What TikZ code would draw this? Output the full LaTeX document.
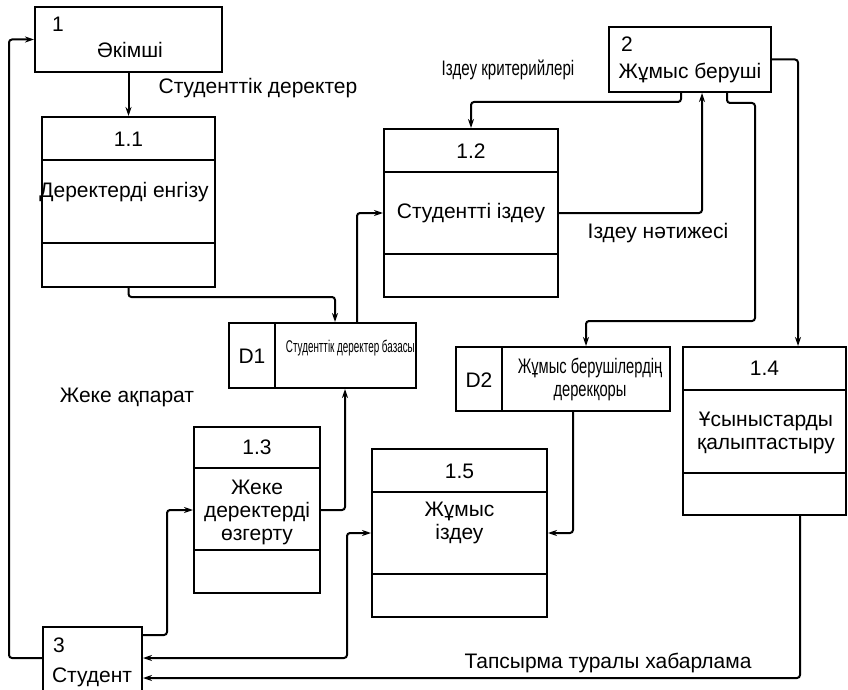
\documentclass[tikz,border=0pt]{standalone}
\usepackage{fontspec}
\setmainfont{Liberation Sans}
\usetikzlibrary{arrows.meta}
\tikzset{
  box/.style={draw, line width=2pt, inner sep=0pt, rectangle},
  flow/.style={line width=2pt, rounded corners=3pt, -{Stealth[length=9pt,width=6pt]}},
  flowboth/.style={line width=2pt, rounded corners=3pt, {Stealth[length=9pt,width=6pt]}-{Stealth[length=9pt,width=6pt]}},
  txt/.style={inner sep=0pt, font=\fontsize{21}{23}\selectfont},
  lbl/.style={inner sep=0pt, font=\fontsize{21}{23}\selectfont, align=center},
  divider/.style={line width=2pt}
}
\newcommand{\narrowtext}[2]{\scalebox{#1}[1]{#2}}
\begin{document}
\begin{tikzpicture}[x=1pt,y=-1pt]
\fill[white] (0,0) rectangle (848,690);
\useasboundingbox (0,0) rectangle (848,690);

% external entities
\node[box, minimum width=187pt, minimum height=65pt] (a1) at (128.5,39.5) {};
\node[txt, anchor=west] (a1n) at (52,24) {1};
\node[txt] (a1t) at (130,50) {Әкімші};

\node[box, minimum width=162pt, minimum height=65pt] (e2) at (690,59.5) {};
\node[txt, anchor=west] (e2n) at (621,44) {2};
\node[txt] (e2t) at (690,73) {Жұмыс беруші};

\node[box, minimum width=99pt, minimum height=72pt] (s3) at (92.5,663) {};
\node[txt, anchor=west] (s3n) at (53,645) {3};
\node[txt] (s3t) at (92,677) {Студент};

% processes
\node[box, minimum width=173pt, minimum height=170pt] (p11) at (128.5,202) {};
\draw[divider] (p11.north west |- 0,160) -- (p11.north east |- 0,160);
\draw[divider] (p11.north west |- 0,243) -- (p11.north east |- 0,243);
\node[txt] (p11n) at (128.5,139) {1.1};
\node[txt] (p11t) at (124,192) {Деректерді енгізу};

\node[box, minimum width=174pt, minimum height=168pt] (p12) at (471,213) {};
\draw[divider] (p12.north west |- 0,172) -- (p12.north east |- 0,172);
\draw[divider] (p12.north west |- 0,254) -- (p12.north east |- 0,254);
\node[txt] (p12n) at (471,151) {1.2};
\node[txt] (p12t) at (471,213) {Студентті іздеу};

\node[box, minimum width=126pt, minimum height=166pt] (p13) at (257,510) {};
\draw[divider] (p13.north west |- 0,468) -- (p13.north east |- 0,468);
\draw[divider] (p13.north west |- 0,550) -- (p13.north east |- 0,550);
\node[txt] (p13n) at (257,447) {1.3};
\node[lbl] (p13t) at (257,512) {Жеке\\деректерді\\өзгерту};

\node[box, minimum width=163pt, minimum height=168pt] (p14) at (764.5,431) {};
\draw[divider] (p14.north west |- 0,390) -- (p14.north east |- 0,390);
\draw[divider] (p14.north west |- 0,473) -- (p14.north east |- 0,473);
\node[txt] (p14n) at (764.5,368) {1.4};
\node[lbl] (p14t) at (766,433) {Ұсыныстарды\\қалыптастыру};

\node[box, minimum width=175pt, minimum height=168pt] (p15) at (459.5,533) {};
\draw[divider] (p15.north west |- 0,492) -- (p15.north east |- 0,492);
\draw[divider] (p15.north west |- 0,574) -- (p15.north east |- 0,574);
\node[txt] (p15n) at (459.5,471) {1.5};
\node[lbl] (p15t) at (459.5,523) {Жұмыс\\іздеу};

% data stores
\node[box, minimum width=187pt, minimum height=65pt] (d1) at (322.5,355.5) {};
\draw[divider] (275,323) -- (275,388);
\node[txt] (d1n) at (252,356) {D1};
\node[inner sep=0pt, anchor=east, font=\fontsize{17}{20}\selectfont] (d1t) at (415,348) {\narrowtext{0.58}{Студенттік деректер базасы}};

\node[box, minimum width=214pt, minimum height=64pt] (d2) at (563,379) {};
\draw[divider] (502,347) -- (502,411);
\node[txt] (d2n) at (479,380) {D2};
\node[inner sep=0pt, font=\fontsize{21}{23}\selectfont, align=center] (d2t) at (590,379) {\narrowtext{0.7}{Жұмыс берушілердің}\\\narrowtext{0.7}{дерекқоры}};

% data flows
\draw[flow] (a1.south) -- (p11.north);
\draw[flow] (p11.south) -- (128.5,297) -| (d1.north -| 335,0);
\draw[flow] (d1.north -| 357,0) |- (p12.west);
\draw[flow] (e2.south -| 681,0) -- (681,102) -| (p12.north);
\draw[flow] (p12.east) -| (e2.south -| 702,0);
\draw[flow] (e2.south -| 727,0) -- (727,103) -- (755,103) -- (755,321) -| (d2.north -| 586,0);
\draw[flow] (e2.east) -| (p14.north -| 798,0);
\draw[flow] (d2.south -| 573,0) |- (p15.east);
\draw[flow] (p13.east) -| (d1.south -| 345,0);
\draw[flow] (s3.east |- 0,635) -- (167,635) |- (p13.west);
\draw[flowboth] (s3.east |- 0,658) -| (347,533) -- (p15.west);
\draw[flow] (p14.south -| 800,0) |- (s3.east |- 0,678);
\draw[flow] (s3.west |- 0,658) -| (9,39.5) -- (a1.west);

% flow labels
\node[txt] (l1) at (258,88) {Студенттік деректер};
\node[inner sep=0pt, font=\fontsize{21}{23}\selectfont] (l2) at (508,70) {\narrowtext{0.72}{Іздеу критерийлері}};
\node[txt] (l3) at (658,233) {Іздеу нәтижесі};
\node[txt] (l4) at (127,397) {Жеке ақпарат};
\node[txt] (l5) at (608,663) {Тапсырма туралы хабарлама};
\end{tikzpicture}
\end{document}
